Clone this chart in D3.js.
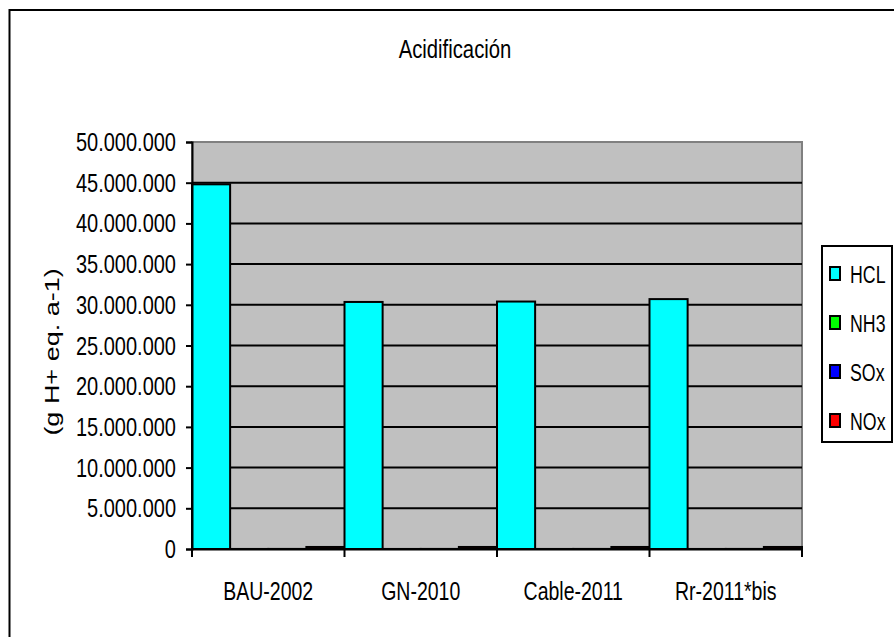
<!DOCTYPE html>
<html>
<head>
<meta charset="utf-8">
<script src="https://cdn.jsdelivr.net/npm/d3@7"></script>
<style>
  body { margin: 0; background: #fff; }
  text { font-family: "Liberation Sans", Arial, sans-serif; fill: #000; }
</style>
</head>
<body>
<div id="wrapper"></div>
<script>
const categories = ["BAU-2002", "GN-2010", "Cable-2011", "Rr-2011*bis"]
const seriesNames = ["HCL", "NH3", "SOx", "NOx"]
const seriesColors = ["#00ffff", "#00ff00", "#0000ff", "#ff0000"]
const hclValues = [44800000, 30350000, 30400000, 30700000]
const nh3Values = [5000, 5000, 5000, 5000]
const soxValues = [10000, 10000, 10000, 10000]
const noxValues = [250000, 250000, 250000, 250000]
const yTicks = [0, 5000000, 10000000, 15000000, 20000000, 25000000, 30000000, 35000000, 40000000, 45000000, 50000000]

const seriesValues = [hclValues, nh3Values, soxValues, noxValues]

const width = 894
const height = 637
const plot = { left: 192, right: 802, top: 142, bottom: 549 }

const svg = d3.select("#wrapper").append("svg")
  .attr("width", width)
  .attr("height", height)

// frame (right and bottom edges fall outside the picture)
svg.append("rect")
  .attr("x", 9.5).attr("y", 10)
  .attr("width", 1000).attr("height", 1000)
  .attr("fill", "#fff").attr("stroke", "#000").attr("stroke-width", 2)

// squeezed text helper (the picture is narrower than its text)
const label = (x, y, txt, size, anchor, sx, rotate = 0) => {
  const g = svg.append("g")
    .attr("transform", `translate(${x},${y}) rotate(${rotate}) scale(${rotate ? 1 : sx},${rotate ? sx : 1})`)
  g.append("text")
    .attr("text-anchor", anchor)
    .style("font-size", size + "px")
    .text(txt)
  return g
}

const x0 = d3.scaleBand().domain(categories).range([plot.left, plot.right]).padding(0)
const x1 = d3.scaleBand().domain(seriesNames).range([0, x0.bandwidth()]).padding(0)
const y = d3.scaleLinear().domain([0, 50000000]).range([plot.bottom, plot.top])

const locale = d3.formatLocale({ decimal: ",", thousands: ".", grouping: [3], currency: ["", ""] })
const fmt = locale.format(",")

// plot area
svg.append("rect")
  .attr("x", plot.left).attr("y", plot.top)
  .attr("width", plot.right - plot.left).attr("height", plot.bottom - plot.top)
  .attr("fill", "#c0c0c0").attr("stroke", "#808080").attr("stroke-width", 2)

// gridlines
svg.append("g").selectAll("line")
  .data(yTicks.filter((d) => d > 0 && d < 50000000))
  .join("line")
  .attr("x1", plot.left).attr("x2", plot.right)
  .attr("y1", (d) => y(d)).attr("y2", (d) => y(d))
  .attr("stroke", "#000").attr("stroke-width", 2)

// bars
const rows = categories.map((c, i) => ({ cat: c, vals: seriesNames.map((s, j) => ({ s, j, v: seriesValues[j][i] })) }))
svg.append("g").selectAll("g")
  .data(rows)
  .join("g")
  .attr("transform", (d) => `translate(${x0(d.cat)},0)`)
  .selectAll("rect")
  .data((d) => d.vals)
  .join("rect")
  .attr("x", (d) => x1(d.s))
  .attr("width", x1.bandwidth())
  .attr("y", (d) => y(d.v))
  .attr("height", (d) => y(0) - y(d.v))
  .attr("fill", (d) => seriesColors[d.j])
  .attr("stroke", "#000").attr("stroke-width", 2)

// axes
const yAxis = svg.append("g")
  .attr("transform", `translate(${plot.left},0)`)
  .call(d3.axisLeft(y).tickValues(yTicks).tickSize(6).tickFormat(fmt))
yAxis.select(".domain").attr("stroke-width", 2)
yAxis.selectAll(".tick line").attr("stroke-width", 2)
yAxis.selectAll(".tick text").remove()
yTicks.forEach((t) => label(plot.left - 16, y(t) + 9, fmt(t), 25, "end", 0.8))

const xAxis = svg.append("g")
  .attr("transform", `translate(0,${plot.bottom})`)
  .call(d3.axisBottom(x0).tickSize(0).tickFormat(""))
xAxis.select(".domain").attr("stroke-width", 2)
xAxis.selectAll(".tick").remove()
svg.append("g").selectAll("line")
  .data(categories.concat(["end"]))
  .join("line")
  .attr("x1", (d) => (d === "end" ? plot.right : x0(d)))
  .attr("x2", (d) => (d === "end" ? plot.right : x0(d)))
  .attr("y1", plot.bottom).attr("y2", plot.bottom + 8)
  .attr("stroke", "#000").attr("stroke-width", 2)

categories.forEach((c) => label(x0(c) + x0.bandwidth() / 2, 600, c, 26, "middle", 0.75))

// title
label(455, 58, "Acidificación", 26, "middle", 0.78)

// y label
label(59, 352, "(g H+ eq. a-1)", 27, "middle", 0.72, -90)

// legend
svg.append("rect")
  .attr("x", 822).attr("y", 246)
  .attr("width", 70).attr("height", 196)
  .attr("fill", "#fff").attr("stroke", "#000").attr("stroke-width", 2)
seriesNames.forEach((s, i) => {
  const by = 283 + i * 49
  svg.append("rect")
    .attr("x", 830).attr("y", by - 16)
    .attr("width", 10).attr("height", 13)
    .attr("fill", seriesColors[i]).attr("stroke", "#000").attr("stroke-width", 2)
  label(850, by, s, 24, "start", 0.74)
})
</script>
</body>
</html>
